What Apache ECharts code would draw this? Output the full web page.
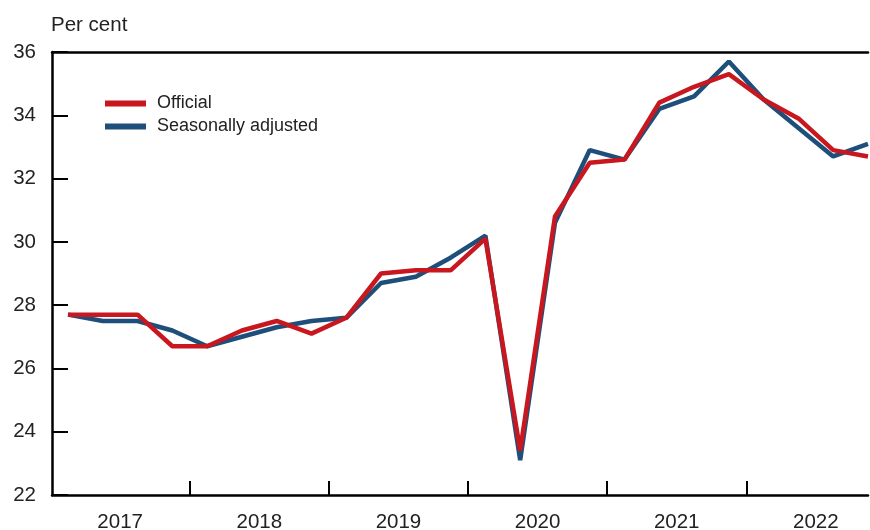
<!DOCTYPE html>
<html>
<head>
<meta charset="utf-8">
<script src="https://cdn.jsdelivr.net/npm/echarts@6/dist/echarts.min.js"></script>
<style>
    html, body { margin: 0; padding: 0; background: #fff; }
    #chart { width: 870px; height: 530px; }
</style>
</head>
<body>
<div id="chart"></div>
<script>
// quarters 2017 Q1 .. 2022 Q4
var years = ['2017', '2018', '2019', '2020', '2021', '2022'];
var official = [27.7, 27.7, 27.7, 26.7, 26.7, 27.2, 27.5, 27.1, 27.6, 29.0, 29.1, 29.1,
    30.1, 23.4, 30.8, 32.5, 32.6, 34.4, 34.9, 35.3, 34.5, 33.9, 32.9, 32.7];
var seasonal = [27.7, 27.5, 27.5, 27.2, 26.7, 27.0, 27.3, 27.5, 27.6, 28.7, 28.9, 29.5,
    30.2, 23.1, 30.6, 32.9, 32.6, 34.2, 34.6, 35.7, 34.5, 33.6, 32.7, 33.1];
var yTicks = [22, 24, 26, 28, 30, 32, 34, 36];

var font = 'Liberation Sans, Arial, sans-serif';
var red = '#c8171f';
var blue = '#1e4f7b';
var plotW = 870 - 52 - 2;

// quarter index -> x value
function toPairs(arr) {
    var out = [];
    for (var i = 0; i < arr.length; i++) out.push([i, arr[i]]);
    return out;
}

// year boundaries and year centres on the quarter scale
var yearBounds = [], yearCentres = [];
for (var y = 0; y < years.length; y++) {
    if (y > 0) yearBounds.push(y * 4 - 0.5);
    yearCentres.push(y * 4 + 1.5);
}

var yMin = yTicks[0], yMax = yTicks[yTicks.length - 1];

var chart = echarts.init(document.getElementById('chart'));
chart.setOption({
    animation: false,
    grid: { left: 52, right: 2, top: 52, bottom: 35, outerBoundsMode: 'none', containLabel: false },
    title: {
        text: 'Per cent', left: 51, top: 15, padding: 0,
        textStyle: { fontFamily: font, fontSize: 20.5, fontWeight: 'normal', color: '#222' }
    },
    legend: {
        data: ['Official', 'Seasonally adjusted'],
        orient: 'vertical', left: 105, top: 92, padding: 0,
        icon: 'rect', itemWidth: 41, itemHeight: 6, itemGap: 0,
        textStyle: { fontFamily: font, fontSize: 18, color: '#222', lineHeight: 23, padding: [0, 0, 0, 6] }
    },
    xAxis: [{
        type: 'value', min: -0.46, max: 23,
        splitLine: { show: false },
        axisLine: { onZero: false, lineStyle: { color: '#000', width: 2.5 } },
        axisTick: { inside: true, length: 14, customValues: yearBounds, lineStyle: { color: '#000', width: 2 } },
        axisLabel: {
            customValues: yearCentres, margin: 17,
            fontFamily: font, fontSize: 20.5, color: '#222',
            formatter: function (v) { return years[Math.round((v - 1.5) / 4)]; }
        }
    }, {
        type: 'value', position: 'top', min: -0.46, max: 23,
        splitLine: { show: false },
        axisLine: { show: true, onZero: false, lineStyle: { color: '#000', width: 2.5 } },
        axisTick: { show: false }, axisLabel: { show: false }
    }],
    yAxis: [{
        type: 'value', min: yMin, max: yMax, interval: 2,
        splitLine: { show: false },
        axisLine: { show: true, onZero: false, lineStyle: { color: '#000', width: 2.5 } },
        axisTick: { show: false },
        axisLabel: { margin: 16, fontFamily: font, fontSize: 20.5, color: '#222' }
    }, {
        // right-side axis moved onto the left edge, so its ticks point into the plot
        type: 'value', position: 'right', offset: -plotW, min: yMin, max: yMax, interval: 2,
        splitLine: { show: false },
        axisLine: { show: false, onZero: false },
        axisTick: { show: true, length: 16, lineStyle: { color: '#000', width: 2 } },
        axisLabel: { show: false }
    }],
    series: [{
        name: 'Seasonally adjusted', type: 'line', data: toPairs(seasonal),
        showSymbol: false, lineStyle: { color: blue, width: 4.5 }, itemStyle: { color: blue }
    }, {
        name: 'Official', type: 'line', data: toPairs(official),
        showSymbol: false, lineStyle: { color: red, width: 4.5 }, itemStyle: { color: red }
    }]
});
</script>
</body>
</html>
